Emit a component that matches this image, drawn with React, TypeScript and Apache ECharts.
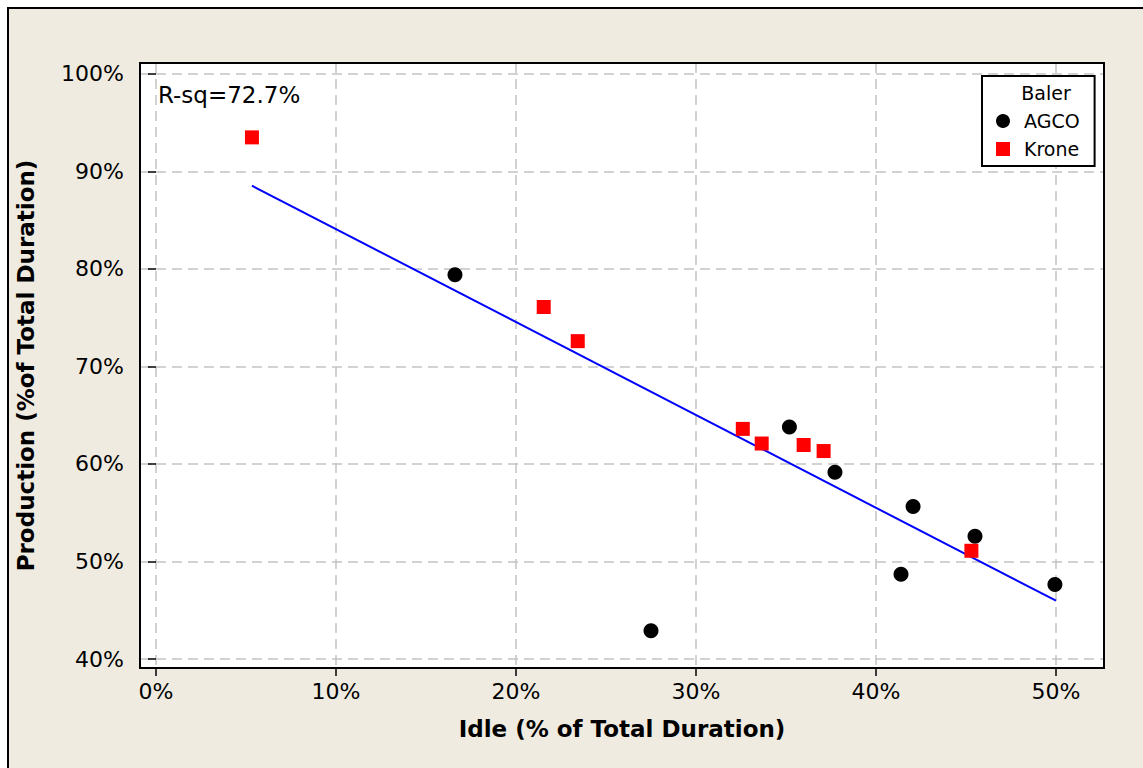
import { useEffect, useRef } from 'react';
import * as echarts from 'echarts';

// Idle share vs. production share of total baling duration, by baler make
const agcoIdle = [16.61, 27.5, 35.19, 37.72, 41.39, 42.06, 45.5, 49.94];
const agcoProd = [79.4, 42.9, 63.8, 59.15, 48.7, 55.65, 52.6, 47.65];
const kroneIdle = [5.33, 21.54, 23.43, 32.6, 33.65, 35.98, 37.09, 45.3];
const kroneProd = [93.5, 76.1, 72.6, 63.6, 62.1, 61.95, 61.33, 51.1];

// Fitted regression line end points
const fitIdle = [5.33, 50];
const fitProd = [88.54, 45.98];

const idleTicks = [0, 10, 20, 30, 40, 50];
const prodTicks = [40, 50, 60, 70, 80, 90, 100];

const seriesNames = ['AGCO', 'Krone'];
const legendTitle = 'Baler';
const rsqLabel = 'R-sq=72.7%';
const xTitle = 'Idle (% of Total Duration)';
const yTitle = 'Production (%of Total Duration)';

const FONT = 'DejaVu Sans';
const BG = '#EFEBE1';

const GRID = { left: 140, top: 63, width: 964, height: 605 };

const pct = (ticks: number[]) => (v: number) =>
  ticks.some((t) => Math.abs(t - v) < 1e-6) ? `${Math.round(v)}%` : '';

export default function App() {
  const ref = useRef<HTMLDivElement>(null);

  useEffect(() => {
    const chart = echarts.init(ref.current!, null, { renderer: 'svg' });
    const gridLine = { color: '#c4c4c4', width: 1.5, type: [10, 6] };
    chart.setOption({
      animation: false,
      backgroundColor: 'transparent',
      textStyle: { fontFamily: FONT, color: '#000' },
      grid: {
        ...GRID,
        show: true,
        backgroundColor: '#fff',
        borderColor: '#000',
        borderWidth: 2,
      },
      xAxis: {
        type: 'value',
        min: -0.889,
        max: 52.667,
        axisLine: { show: false },
        axisTick: {
          show: true,
          length: 8,
          customValues: idleTicks,
          lineStyle: { color: '#000', width: 1.5 },
        },
        axisLabel: {
          customValues: idleTicks,
          margin: 12,
          fontSize: 22,
          color: '#000',
          fontFamily: FONT,
          formatter: pct(idleTicks),
        },
        splitLine: { show: true, lineStyle: gridLine },
        name: xTitle,
        nameLocation: 'middle',
        nameGap: 49,
        nameTextStyle: { fontSize: 23, fontWeight: 'bold', color: '#000', fontFamily: FONT },
      },
      yAxis: {
        type: 'value',
        min: 39.077,
        max: 101.128,
        axisLine: { show: false },
        axisTick: {
          show: true,
          length: 8,
          customValues: prodTicks,
          lineStyle: { color: '#000', width: 1.5 },
        },
        axisLabel: {
          customValues: prodTicks,
          margin: 16,
          fontSize: 22,
          color: '#000',
          fontFamily: FONT,
          formatter: pct(prodTicks),
        },
        splitLine: { show: true, lineStyle: gridLine },
        name: yTitle,
        nameLocation: 'middle',
        nameGap: 103,
        nameTextStyle: { fontSize: 23, fontWeight: 'bold', color: '#000', fontFamily: FONT },
      },
      legend: {
        data: seriesNames,
        orient: 'vertical',
        left: 982,
        top: 76,
        padding: [35, 15, 7, 14],
        itemWidth: 14,
        itemHeight: 14,
        itemGap: 8,
        backgroundColor: '#fff',
        borderColor: '#000',
        borderWidth: 2,
        borderRadius: 0,
        textStyle: {
          fontSize: 19,
          lineHeight: 20,
          color: '#000',
          fontFamily: FONT,
          padding: [0, 0, 0, 9],
        },
      },
      graphic: [
        {
          type: 'rect',
          silent: true,
          z: 100,
          shape: { x: GRID.left, y: GRID.top, width: GRID.width, height: GRID.height },
          style: { fill: 'none', stroke: '#000', lineWidth: 2 },
        },
        {
          type: 'text',
          z: 100,
          x: 158,
          y: 95,
          style: { text: rsqLabel, fontSize: 23, fontFamily: FONT, fill: '#000', verticalAlign: 'middle' },
        },
        {
          type: 'text',
          z: 100,
          x: 1046,
          y: 93,
          style: {
            text: legendTitle,
            fontSize: 19,
            fontFamily: FONT,
            fill: '#000',
            align: 'center',
            verticalAlign: 'middle',
          },
        },
      ],
      series: [
        {
          name: 'Fit',
          type: 'line',
          z: 1,
          symbol: 'none',
          data: fitIdle.map((x, i) => [x, fitProd[i]]),
          lineStyle: { color: '#0000ff', width: 2 },
        },
        {
          name: seriesNames[0],
          type: 'scatter',
          symbol: 'circle',
          symbolSize: 15,
          itemStyle: { color: '#000', opacity: 1 },
          data: agcoIdle.map((x, i) => [x, agcoProd[i]]),
        },
        {
          name: seriesNames[1],
          type: 'scatter',
          symbol: 'rect',
          symbolSize: 14,
          itemStyle: { color: '#ff0000', opacity: 1 },
          data: kroneIdle.map((x, i) => [x, kroneProd[i]]),
        },
      ],
    });
    return () => chart.dispose();
  }, []);

  return (
    <div
      style={{
        position: 'fixed',
        left: 0,
        top: 0,
        width: 1143,
        height: 768,
        background: '#fff',
        overflow: 'hidden',
      }}
    >
      <div
        style={{
          position: 'absolute',
          left: 7,
          top: 7,
          width: 1136,
          height: 761,
          background: BG,
          borderLeft: '2px solid #000',
          borderTop: '2px solid #000',
          boxSizing: 'border-box',
        }}
      />
      <div ref={ref} style={{ position: 'absolute', left: 0, top: 0, width: 1143, height: 768 }} />
    </div>
  );
}
